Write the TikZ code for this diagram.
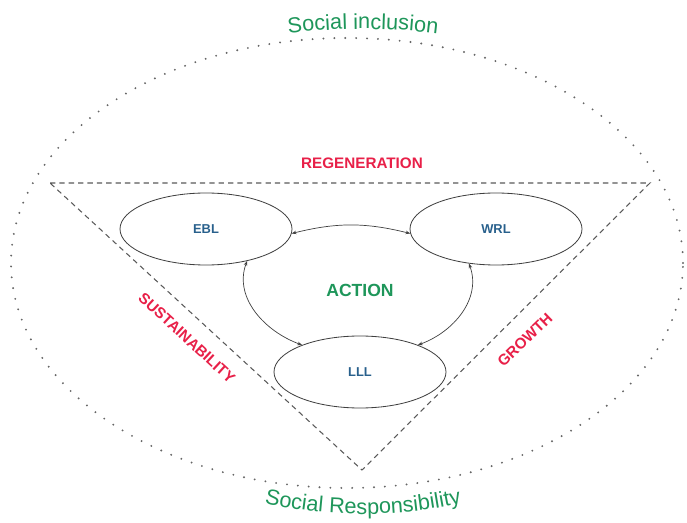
\documentclass[tikz,border=0pt]{standalone}
\usepackage{fontspec}
\setmainfont{Liberation Sans}
\usetikzlibrary{shapes.geometric,arrows.meta,decorations.text}
\definecolor{sgreen}{RGB}{30,150,90}
\definecolor{sred}{RGB}{232,32,72}
\definecolor{sblue}{RGB}{40,96,140}

\begin{document}
\begin{tikzpicture}[x=0.03cm,y=0.03cm,
    loop/.style={ellipse,draw=black!75,line width=0.7pt,minimum width=5.16cm,minimum height=2.16cm,inner sep=0pt,
      text=sblue,font=\bfseries\fontsize{11}{13}\selectfont},
    pillar/.style={text=sred,font=\bfseries\fontsize{13}{15}\selectfont},
    >={Stealth[length=4pt,width=3pt]}]
  \useasboundingbox (0,0) rectangle (687,522);

  % outer ring and triangle
  \draw[black!60,line width=1.8pt,line cap=round,dash pattern=on 0pt off 9.3pt] (347,259) ellipse[x radius=336,y radius=225];
  \draw[black!65,line width=0.9pt,dash pattern=on 4.5pt off 3.5pt] (50,339) -- (650,339) -- (362,52) -- cycle;

  \path[decorate,decoration={text along path,text align=center,text color=sgreen,
      text={|\fontsize{18.5}{20}\selectfont|Social inclusion}}]
    (258.8,483.9) arc[start angle=100,end angle=80,radius=600];
  \path[decorate,decoration={text along path,text align=center,text color=sgreen,
      text={|\fontsize{18.5}{20}\selectfont|Social Responsibility}}]
    (209.1,35.1) arc[start angle=250,end angle=290,radius=450];

  \node[loop] (ebl) at (206,293) {EBL};
  \node[loop] (wrl) at (496,293) {WRL};
  \node[loop] (lll) at (360,150) {LLL};

  \draw[<->,black!75,line width=0.6pt] (ebl.-3) to[bend left=14] (wrl.183);
  \draw[<->,black!75,line width=0.6pt] (ebl.-38) to[out=250,in=160] (lll.155);
  \draw[<->,black!75,line width=0.6pt] (wrl.-128) to[out=290,in=20] (lll.25);

  \node[text=sgreen,font=\bfseries\fontsize{15}{17}\selectfont] (action) at (360,232) {ACTION};
  \node[pillar] (regen) at (362,359) {REGENERATION};
  \node[pillar,rotate=-42.6] (sustain) at (187,184) {SUSTAINABILITY};
  \node[pillar,rotate=44] (growth) at (525,182) {GROWTH};
\end{tikzpicture}
\end{document}
